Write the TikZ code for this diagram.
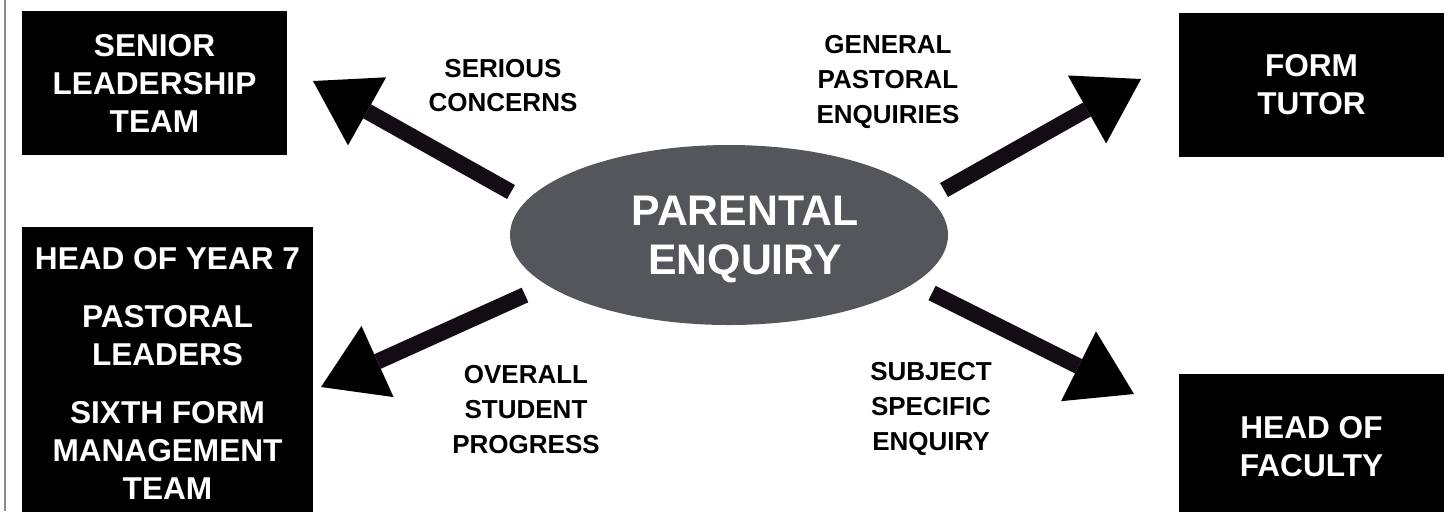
\documentclass[tikz,border=0pt]{standalone}
\usepackage{fontspec}
\setmainfont{Liberation Sans}
\usetikzlibrary{arrows.meta,shapes.geometric}
\definecolor{ellgray}{RGB}{85,86,91}
\definecolor{shaftcol}{RGB}{20,12,20}
\definecolor{framecol}{RGB}{140,140,140}
\begin{document}
\begin{tikzpicture}[x=0.5pt,y=-0.5pt,
  blackbox/.style={fill=black, draw=none, inner sep=0pt, text=white, align=center,
    font=\bfseries\fontsize{15.8pt}{19pt}\selectfont},
  lbl/.style={text=black, font=\bfseries\fontsize{13pt}{17.4pt}\selectfont, align=center, inner sep=0pt, anchor=north},
  bigarrow/.style={draw=shaftcol, line width=8pt,
    -{Triangle[width=39pt,length=31pt,line width=0pt,color=black]}},
]
\useasboundingbox (0,0) rectangle (1449,511);
\clip (0,0) rectangle (1449,511);
\draw[framecol, line width=1pt] (4.5,0) -- (4.5,511);

% boxes
\node[blackbox, minimum width=132.5pt, minimum height=72pt] (slt) at (154.5,83)
  {SENIOR\\LEADERSHIP\\TEAM};
\node[blackbox, minimum width=145.5pt, minimum height=146.5pt] (hoy) at (167.5,373.5)
  {HEAD OF YEAR 7\\[10pt]PASTORAL\\LEADERS\\[10pt]SIXTH FORM\\MANAGEMENT\\TEAM};
\node[blackbox, minimum width=132.5pt, minimum height=72pt] (ft) at (1311.5,85)
  {FORM\\TUTOR};
\node[blackbox, minimum width=132.5pt, minimum height=73pt] (hof) at (1311.5,447)
  {HEAD OF\\FACULTY};

% central ellipse
\node[ellipse, fill=ellgray, draw=none, minimum width=219pt, minimum height=90pt,
  inner sep=0pt, text=white, align=center, font=\bfseries\fontsize{21.4pt}{24.5pt}\selectfont]
  (pe) at (729,235) {\hspace*{16pt}\rule{0pt}{19pt}PARENTAL\\\hspace*{16pt}ENQUIRY};

% arrow end points
\coordinate (t1) at (511,192); \coordinate (h1) at (313,81);
\coordinate (t2) at (944,190); \coordinate (h2) at (1141,79);
\coordinate (t3) at (525,295); \coordinate (h3) at (321,387);
\coordinate (t4) at (932,293); \coordinate (h4) at (1134,394);
\draw[bigarrow] (t1) -- (h1);
\draw[bigarrow] (t2) -- (h2);
\draw[bigarrow] (t3) -- (h3);
\draw[bigarrow] (t4) -- (h4);

% labels
\node[lbl] (l1) at (503,58.5) {SERIOUS\\CONCERNS};
\node[lbl] (l2) at (888,35) {GENERAL\\PASTORAL\\ENQUIRIES};
\node[lbl] (l3) at (526,365) {OVERALL\\STUDENT\\PROGRESS};
\node[lbl] (l4) at (931,362) {SUBJECT\\SPECIFIC\\ENQUIRY};
\end{tikzpicture}
\end{document}
